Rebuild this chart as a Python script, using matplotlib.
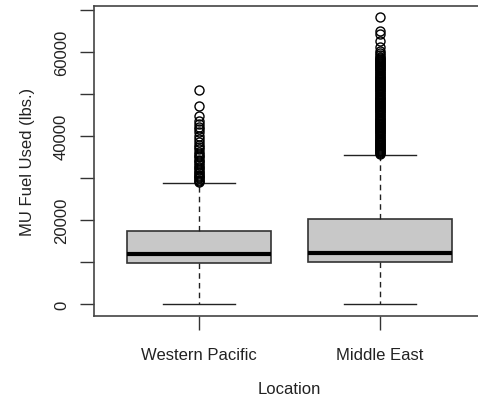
import matplotlib
matplotlib.use('Agg')
import matplotlib.pyplot as plt

plt.rcParams['font.family'] = ['Liberation Sans', 'DejaVu Sans']

# Summary statistics per location (lbs.)
locations = ['Western Pacific', 'Middle East']
whisker_low = [0, 0]
q1 = [9800, 10000]
median = [12000, 12200]
q3 = [17400, 20200]
whisker_high = [28800, 35500]

# Outlying flights
wp_outliers = [51000, 47200, 44700, 43600, 42900, 42200, 41700, 40900, 40100,
               39300, 38600, 37900, 37400, 36800, 36300, 35800, 35300, 34900,
               34400, 34000, 33500, 33100, 32700, 32300, 31900, 31500, 31200,
               30800, 30500, 30200, 29900, 29600, 29300, 29000]
me_outliers = [68300, 65000, 64200, 62600, 61200, 60300, 59800, 59300, 58900,
               58600, 58400, 58100, 57900, 57600, 57400, 57100, 56900, 56600,
               56400, 56100, 55900, 55600, 55400, 55100, 54900, 54600, 54400,
               54100, 53900, 53600, 53400, 53100, 52900, 52600, 52400, 52100,
               51900, 51600, 51400, 51100, 50900, 50600, 50400, 50100, 49900,
               49600, 49400, 49100, 48900, 48600, 48400, 48100, 47900, 47600,
               47400, 47100, 46900, 46600, 46400, 46100, 45900, 45600, 45400,
               45100, 44900, 44600, 44400, 44100, 43900, 43600, 43400, 43100,
               42900, 42600, 42400, 42100, 41900, 41600, 41400, 41100, 40900,
               40600, 40400, 40100, 39900, 39600, 39400, 39100, 38900, 38600,
               38400, 38100, 37900, 37600, 37400, 37100, 36900, 36600, 36400,
               36100, 35900, 35700]
outliers = [wp_outliers, me_outliers]

stats = []
for i, name in enumerate(locations):
    stats.append({
        'label': name,
        'whislo': whisker_low[i],
        'q1': q1[i],
        'med': median[i],
        'q3': q3[i],
        'whishi': whisker_high[i],
        'fliers': outliers[i],
    })

fig = plt.figure(figsize=(4.78, 4.02), dpi=100, facecolor='white')
ax = fig.add_axes([94 / 478, 1 - 317 / 402, 391 / 478, 310 / 402])

ax.bxp(stats, positions=[1, 2], widths=0.8, patch_artist=True,
       boxprops=dict(facecolor='#c8c8c8', edgecolor='#333333', linewidth=1.2),
       medianprops=dict(color='black', linewidth=3, solid_capstyle='butt'),
       whiskerprops=dict(color='#222222', linewidth=1, linestyle=(0, (4, 3))),
       capprops=dict(color='#222222', linewidth=1),
       capwidths=0.4,
       flierprops=dict(marker='o', markerfacecolor='none', markeredgecolor='black',
                       markersize=6.5, markeredgewidth=1))

ax.set_xlim(0.42, 2.58)
ax.set_ylim(-2860, 70950)

ax.set_yticks(range(0, 70001, 10000))
ax.set_yticklabels(['0', '', '20000', '', '40000', '', '60000', ''],
                   rotation=90, va='center', fontsize=12, color='#222222')
ax.set_xticks([1, 2])
ax.set_xticklabels(locations, fontsize=12, color='#222222')
ax.tick_params(axis='both', length=10, width=1, color='#333333', pad=8)
ax.tick_params(axis='x', pad=12)

for side in ['left', 'top', 'right', 'bottom']:
    ax.spines[side].set_color('#444444')
    ax.spines[side].set_linewidth(1.2)

ax.set_ylabel('MU Fuel Used (lbs.)', fontsize=12, color='#222222', labelpad=14)
ax.set_xlabel('Location', fontsize=12, color='#222222', labelpad=14)

fig.savefig('out.png', dpi=100, facecolor='white')
